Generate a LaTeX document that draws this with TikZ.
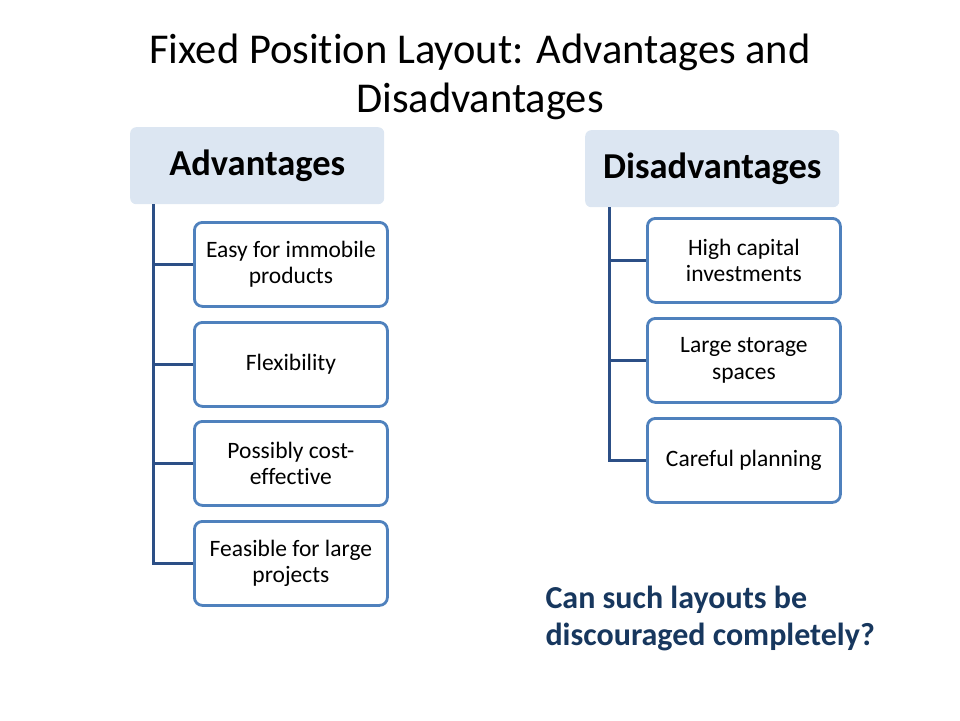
\documentclass[tikz,border=0pt]{standalone}
\usepackage{fontspec}
\setmainfont{Carlito}[Ligatures={NoCommon}]
\definecolor{hdrfill}{HTML}{DCE6F2}
\definecolor{boxline}{HTML}{4F81BD}
\definecolor{treeline}{HTML}{2C4F86}
\definecolor{navy}{HTML}{17375E}
\begin{document}
\begin{tikzpicture}[x=1pt,y=-1pt,
  hdr/.style={fill=hdrfill,rounded corners=6pt,minimum width=254pt,minimum height=77pt,font=\fontsize{36.5}{40}\selectfont\bfseries,anchor=north west},
  child/.style={draw=boxline,line width=2.8pt,fill=white,rounded corners=8pt,minimum width=193pt,minimum height=84pt,align=center,font=\fontsize{23.5}{26.5}\selectfont,anchor=north west},
  tree/.style={draw=treeline,line width=3pt}]
\useasboundingbox (0,0) rectangle (960,720);
\node[font=\fontsize{42.5}{49}\selectfont,align=center] (title) at (480,77) {Fixed Position Layout: Advantages and\\Disadvantages};
% Advantages
\node[hdr] (adv) at (130,127) {Advantages};
\node[child] (a1) at (193,221) {Easy for immobile\\products};
\node[child] (a2) at (193,321) {Flexibility};
\node[child] (a3) at (193,420) {Possibly cost-\\effective};
\node[child] (a4) at (193,520) {Feasible for large\\projects};
\coordinate (av) at (153,204);
\draw[tree] (av) |- (a4.west);
\foreach \n in {a1,a2,a3} \draw[tree] (av |- \n.west) -- (\n.west);
% Disadvantages
\node[hdr] (dis) at (585,130) {Disadvantages};
\node[child] (d1) at (646,217) {High capital\\investments};
\node[child] (d2) at (646,317) {Large storage\\spaces};
\node[child] (d3) at (646,417) {Careful planning};
\coordinate (dv) at (609,207);
\draw[tree] (dv) |- (d3.west);
\foreach \n in {d1,d2} \draw[tree] (dv |- \n.west) -- (\n.west);
\node[font=\fontsize{32}{37}\selectfont\bfseries,text=navy,align=left,anchor=north west] (q) at (542,583) {Can such layouts be\\discouraged completely?};
\end{tikzpicture}
\end{document}
